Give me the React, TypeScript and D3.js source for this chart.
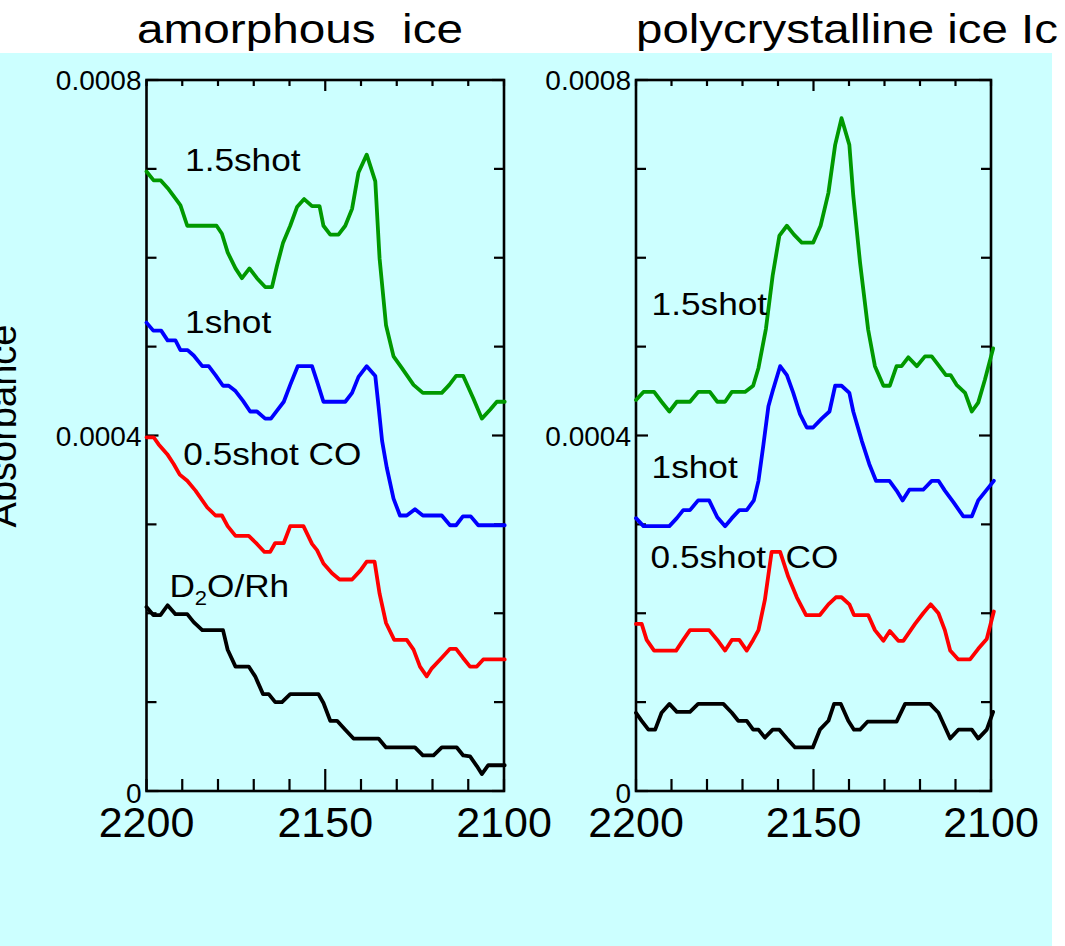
import React from "react";
import * as d3 from "d3";

// Absorbance values are stored in units of 1e-4.
const UNIT = 1e-4;

const panelTitles = ["amorphous  ice", "polycrystalline ice Ic"];
const yAxisTitle = "Absorbance";
const yTickValues = [0, 0.0004, 0.0008];
const yTickLabels = ["0", "0.0004", "0.0008"];
const xTickValues = [2200, 2150, 2100];
const xTickLabels = ["2200", "2150", "2100"];

// amorphous ice: [wavenumber (cm-1), absorbance x 1e-4]
const amorphous15: [number, number][] = [
  [2200, 6.97], [2198, 6.87], [2196, 6.87], [2193.8, 6.77], [2191.4, 6.64], [2190.5, 6.59],
  [2188.6, 6.36], [2180.4, 6.36], [2178.9, 6.27], [2177.3, 6.06], [2175.1, 5.88], [2173.3, 5.77],
  [2171.2, 5.88], [2169.1, 5.77], [2166.8, 5.67], [2164.9, 5.67], [2163.5, 5.91], [2161.8, 6.17],
  [2159.8, 6.36], [2157.9, 6.57], [2155.9, 6.66], [2153.7, 6.58], [2151.6, 6.58], [2150.5, 6.36],
  [2148.6, 6.26], [2146.3, 6.26], [2144.4, 6.36], [2142.5, 6.55], [2140.7, 6.96], [2138.4, 7.16],
  [2136, 6.86], [2134.8, 5.99], [2133, 5.24], [2130.9, 4.89], [2128.6, 4.76], [2125.3, 4.57],
  [2122.7, 4.48], [2117.4, 4.48], [2115.3, 4.57], [2113.4, 4.67], [2111.4, 4.67], [2108.6, 4.42],
  [2106.2, 4.19], [2103.9, 4.29], [2102, 4.38], [2099.8, 4.38],
];
const amorphous10: [number, number][] = [
  [2200, 5.27], [2198.1, 5.18], [2195.9, 5.18], [2194.1, 5.07], [2191.9, 5.07], [2190.5, 4.96],
  [2188.5, 4.96], [2186.8, 4.9], [2184.4, 4.78], [2182.6, 4.78], [2180.7, 4.68], [2178.6, 4.56],
  [2177, 4.56], [2175.1, 4.5], [2173, 4.39], [2171, 4.27], [2169.1, 4.27], [2166.8, 4.19],
  [2165.2, 4.19], [2163.5, 4.28], [2161.6, 4.38], [2159.8, 4.57], [2157.7, 4.78], [2153.7, 4.78],
  [2152.3, 4.61], [2150.5, 4.38], [2144.4, 4.38], [2142.5, 4.48], [2140.7, 4.66], [2138.4, 4.78],
  [2136, 4.67], [2135.1, 4.33], [2134.1, 3.94], [2132.8, 3.64], [2130.9, 3.29], [2129.1, 3.1],
  [2127.2, 3.1], [2124.9, 3.17], [2122.7, 3.1], [2117.4, 3.1], [2115.1, 2.99], [2113.4, 2.99],
  [2111.5, 3.09], [2109.3, 3.09], [2107.2, 2.99], [2099.8, 2.99],
];
const amorphous05: [number, number][] = [
  [2200, 3.98], [2198, 3.98], [2196.6, 3.9], [2194.2, 3.79], [2192.4, 3.68], [2190.7, 3.56],
  [2188.6, 3.49], [2186.3, 3.38], [2183, 3.19], [2180.7, 3.1], [2178.9, 3.1], [2177.3, 2.98],
  [2175.1, 2.87], [2171.4, 2.87], [2169.1, 2.78], [2167, 2.69], [2165.4, 2.69], [2164, 2.79],
  [2161.6, 2.79], [2159.8, 2.98], [2156.1, 2.98], [2153.7, 2.78], [2152.3, 2.71], [2150.5, 2.56],
  [2148.1, 2.45], [2146, 2.38], [2142.5, 2.38], [2140.2, 2.48], [2138.4, 2.58], [2136.2, 2.58],
  [2134.8, 2.22], [2133, 1.89], [2130.7, 1.7], [2127.2, 1.7], [2125.3, 1.59], [2123.5, 1.4],
  [2121.6, 1.29], [2120.2, 1.38], [2117.4, 1.5], [2115.1, 1.6], [2113.4, 1.6], [2111.5, 1.5],
  [2109.5, 1.4], [2107.6, 1.4], [2105.8, 1.48], [2099.8, 1.48],
];
const amorphousD2O: [number, number][] = [
  [2200, 2.07], [2198.1, 1.98], [2196.1, 1.98], [2194.1, 2.09], [2191.9, 1.99], [2188.6, 1.99],
  [2186.8, 1.9], [2184.4, 1.81], [2178.6, 1.81], [2177.3, 1.59], [2175.1, 1.4], [2171.4, 1.4],
  [2169.6, 1.29], [2167.4, 1.09], [2165.8, 1.09], [2164, 1.0], [2162.1, 1.0], [2159.8, 1.09],
  [2151.9, 1.09], [2150.5, 0.99], [2148.6, 0.79], [2146.7, 0.79], [2144.4, 0.69], [2142.1, 0.59],
  [2135.1, 0.59], [2133, 0.49], [2124.9, 0.49], [2122.7, 0.4], [2119.7, 0.4], [2117.4, 0.49],
  [2113.2, 0.49], [2111.4, 0.4], [2109.5, 0.39], [2107.6, 0.28], [2106.2, 0.19], [2104.4, 0.29],
  [2099.8, 0.29],
];

// polycrystalline ice Ic
const poly15: [number, number][] = [
  [2200, 4.4], [2197.9, 4.49], [2194.9, 4.49], [2192.8, 4.38], [2190.6, 4.27], [2188.5, 4.38],
  [2184.8, 4.38], [2182.5, 4.49], [2179.2, 4.49], [2177.1, 4.38], [2174.9, 4.38], [2173, 4.49],
  [2169.3, 4.49], [2167, 4.56], [2165.5, 4.76], [2163.4, 5.2], [2161.5, 5.8], [2159.6, 6.25],
  [2157.5, 6.36], [2155.5, 6.26], [2153.3, 6.17], [2150.1, 6.17], [2148, 6.36], [2145.8, 6.73],
  [2143.9, 7.27], [2142.1, 7.57], [2139.9, 7.27], [2138.8, 6.7], [2136.9, 5.95], [2134.6, 5.19],
  [2132.7, 4.78], [2130.3, 4.56], [2128.5, 4.56], [2126.6, 4.78], [2125.2, 4.78], [2123.3, 4.88],
  [2120.9, 4.78], [2118.6, 4.89], [2116.7, 4.89], [2114.6, 4.78], [2112.7, 4.68], [2111.4, 4.68],
  [2109.7, 4.57], [2107.3, 4.48], [2105.4, 4.27], [2103.6, 4.37], [2101.7, 4.63], [2099.4, 4.98],
];
const poly10: [number, number][] = [
  [2200, 3.07], [2197.9, 2.98], [2190.6, 2.98], [2188.5, 3.07], [2186.7, 3.16], [2184.8, 3.16],
  [2182.5, 3.27], [2179.4, 3.27], [2177.1, 3.08], [2174.9, 2.98], [2173, 3.07], [2170.9, 3.16],
  [2168.8, 3.16], [2166.8, 3.27], [2165.5, 3.49], [2164.1, 3.9], [2162.7, 4.33], [2161.5, 4.5],
  [2159.4, 4.78], [2157.5, 4.68], [2155.7, 4.48], [2153.8, 4.24], [2151.9, 4.09], [2150.1, 4.09],
  [2147.7, 4.19], [2145.5, 4.27], [2143.9, 4.56], [2142.1, 4.56], [2139.9, 4.48], [2138.8, 4.27],
  [2136.4, 3.94], [2134.3, 3.68], [2132.4, 3.49], [2128.6, 3.49], [2126.6, 3.38], [2124.9, 3.27],
  [2123, 3.39], [2119.1, 3.39], [2116.7, 3.49], [2114.8, 3.49], [2113, 3.38], [2110.6, 3.25],
  [2107.8, 3.09], [2105.4, 3.09], [2103.6, 3.27], [2099.2, 3.49],
];
const poly05: [number, number][] = [
  [2200, 1.88], [2198.4, 1.88], [2197, 1.7], [2194.9, 1.58], [2188.7, 1.58], [2186.7, 1.7],
  [2184.8, 1.81], [2179.4, 1.81], [2177.1, 1.7], [2174.9, 1.58], [2173, 1.7], [2170.9, 1.7],
  [2168.8, 1.58], [2167, 1.7], [2165.5, 1.81], [2163.7, 2.15], [2161.8, 2.69], [2159.4, 2.69],
  [2157.1, 2.41], [2154.7, 2.18], [2152.1, 1.98], [2148.2, 1.98], [2145.8, 2.1], [2143.7, 2.18],
  [2142.1, 2.18], [2139.9, 2.1], [2138.6, 1.98], [2134.6, 1.98], [2132.7, 1.81], [2130.3, 1.69],
  [2128.5, 1.8], [2126.1, 1.69], [2124.7, 1.69], [2121.4, 1.88], [2119.1, 2.0], [2117, 2.1],
  [2114.8, 2.0], [2113, 1.81], [2111.5, 1.58], [2109.2, 1.48], [2105.9, 1.48], [2103.6, 1.6],
  [2101.2, 1.71], [2099.2, 2.02],
];
const polyD2O: [number, number][] = [
  [2200, 0.88], [2198.4, 0.79], [2196.5, 0.69], [2194.6, 0.69], [2192.8, 0.88], [2190.6, 0.98],
  [2188.5, 0.89], [2184.8, 0.89], [2182.5, 0.98], [2175.4, 0.98], [2173, 0.88], [2171.2, 0.79],
  [2168.8, 0.79], [2167, 0.69], [2165.5, 0.69], [2163.7, 0.6], [2161.5, 0.69], [2159.6, 0.69],
  [2157.5, 0.59], [2155.2, 0.49], [2150.2, 0.49], [2148.2, 0.69], [2145.8, 0.79], [2144.2, 0.98],
  [2142.3, 0.98], [2140.2, 0.79], [2138.6, 0.69], [2136.9, 0.69], [2134.8, 0.78], [2126.6, 0.78],
  [2124.2, 0.98], [2117.2, 0.98], [2114.8, 0.88], [2111.5, 0.59], [2109.2, 0.69], [2105.4, 0.69],
  [2103.6, 0.59], [2101.2, 0.69], [2099.4, 0.89],
];

const seriesColors = ["#009900", "#0000ff", "#ff0000", "#000000"];

type Label = { text: string; wn: number; abs: number; sub?: boolean };

const amorphousLabels: Label[] = [
  { text: "1.5shot", wn: 2189.2, abs: 6.98 },
  { text: "1shot", wn: 2189.2, abs: 5.15 },
  { text: "0.5shot CO", wn: 2189.7, abs: 3.67 },
  { text: "D2O/Rh", wn: 2193.6, abs: 2.18, sub: true },
];
const polyLabels: Label[] = [
  { text: "1.5shot", wn: 2195.6, abs: 5.36 },
  { text: "1shot", wn: 2195.6, abs: 3.52 },
  { text: "0.5shot  CO", wn: 2195.9, abs: 2.51 },
];

const FONT = "'Liberation Sans', Arial, Helvetica, sans-serif";

const panels = [
  {
    title: panelTitles[0],
    left: 146.5,
    right: 504,
    titleX: 137,
    titleW: 326,
    series: [amorphous15, amorphous10, amorphous05, amorphousD2O],
    labels: amorphousLabels,
  },
  {
    title: panelTitles[1],
    left: 636,
    right: 991,
    titleX: 636,
    titleW: 422,
    series: [poly15, poly10, poly05, polyD2O],
    labels: polyLabels,
  },
];

const TOP = 80;
const BOTTOM = 791;

function Panel({ p }: { p: (typeof panels)[number] }) {
  const x = d3.scaleLinear().domain([2200, 2100]).range([p.left, p.right]);
  const y = d3.scaleLinear().domain([0, 0.0008]).range([BOTTOM, TOP]);
  const line = d3
    .line<[number, number]>()
    .x((d) => x(d[0]))
    .y((d) => y(d[1] * UNIT));

  const yMinor = d3.range(0, 9).map((i) => i * 0.0001);
  const xMinor = d3.range(0, 11).map((i) => 2200 - i * 10);

  return (
    <g>
      <text
        x={p.titleX}
        y={43}
        fontSize={41}
        fontFamily={FONT}
        textLength={p.titleW}
        lengthAdjust="spacingAndGlyphs"
        style={{ whiteSpace: "pre" }}
      >
        {p.title}
      </text>

      {/* y ticks on both sides */}
      {yMinor.map((v, i) => {
        const len = i % 4 === 0 ? 12 : 10;
        return (
          <g key={"y" + i} stroke="#000" strokeWidth={2.2}>
            <line x1={p.left} x2={p.left + len} y1={y(v)} y2={y(v)} />
            <line x1={p.right} x2={p.right - len} y1={y(v)} y2={y(v)} />
          </g>
        );
      })}
      {/* x ticks: long at the bottom, short at the top */}
      {xMinor.map((v, i) => {
        const major = v === 2150;
        return (
          <g key={"x" + i} stroke="#000" strokeWidth={2.2}>
            <line x1={x(v)} x2={x(v)} y1={BOTTOM} y2={BOTTOM - (major ? 22 : 12)} />
            <line x1={x(v)} x2={x(v)} y1={TOP} y2={TOP + (major ? 11 : 6)} />
          </g>
        );
      })}
      <rect
        x={p.left}
        y={TOP}
        width={p.right - p.left}
        height={BOTTOM - TOP}
        fill="none"
        stroke="#000"
        strokeWidth={2.6}
      />

      {yTickValues.map((v, i) => (
        <text
          key={"yl" + i}
          x={p.left - 5}
          y={y(v) + (v === 0 ? 12 : 10)}
          fontSize={28}
          fontFamily={FONT}
          textAnchor="end"
        >
          {yTickLabels[i]}
        </text>
      ))}
      {xTickValues.map((v, i) => (
        <text
          key={"xl" + i}
          x={x(v)}
          y={BOTTOM + 46}
          fontSize={43}
          fontFamily={FONT}
          textAnchor="middle"
        >
          {xTickLabels[i]}
        </text>
      ))}

      {p.series.map((s, i) => (
        <path
          key={"s" + i}
          d={line(s) || ""}
          fill="none"
          stroke={seriesColors[i]}
          strokeWidth={3.8}
          strokeLinejoin="round"
          strokeLinecap="round"
        />
      ))}

      {p.labels.map((l, i) => {
        const lx = x(l.wn);
        const ly = y(l.abs * UNIT);
        return (
          <g key={"l" + i} transform={`translate(${lx},${ly}) scale(1.1,1)`}>
            <text x={0} y={0} fontSize={32} fontFamily={FONT} style={{ whiteSpace: "pre" }}>
              {l.sub ? (
                <>
                  D
                  <tspan fontSize={20} dy={8}>
                    2
                  </tspan>
                  <tspan dy={-8}>O/Rh</tspan>
                </>
              ) : (
                l.text
              )}
            </text>
          </g>
        );
      })}
    </g>
  );
}

export default function App() {
  return (
    <svg
      width={1065}
      height={946}
      style={{ position: "absolute", left: 0, top: 0, background: "#ffffff" }}
    >
      <rect x={0} y={53} width={1052} height={893} fill="#ccffff" />
      {panels.map((p, i) => (
        <Panel key={i} p={p} />
      ))}
      <text
        transform="translate(16,426) rotate(-90)"
        fontSize={38}
        fontFamily={FONT}
        textAnchor="middle"
      >
        {yAxisTitle}
      </text>
    </svg>
  );
}
